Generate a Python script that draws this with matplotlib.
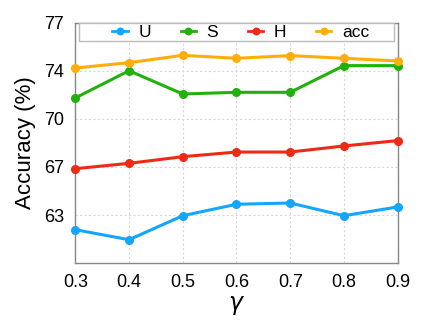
import numpy as np
import matplotlib
matplotlib.use("Agg")
import matplotlib.pyplot as plt
from matplotlib.patches import Rectangle

plt.rcParams['font.family'] = ['Liberation Sans', 'DejaVu Sans']
plt.rcParams['mathtext.fontset'] = 'dejavusans'

gamma = [0.3, 0.4, 0.5, 0.6, 0.7, 0.8, 0.9]
U = [62.36, 61.65, 63.35, 64.16, 64.25, 63.35, 63.97]
S = [71.69, 73.62, 71.97, 72.09, 72.09, 73.98, 73.98]
H = [66.68, 67.06, 67.53, 67.86, 67.86, 68.29, 68.67]
acc = [73.81, 74.19, 74.71, 74.50, 74.69, 74.50, 74.31]

yticks = [63.4, 66.8, 70.2, 73.6, 77.0]
ytick_labels = ["63", "67", "70", "74", "77"]

fig = plt.figure(figsize=(4.32, 3.27), dpi=100)
ax = fig.add_axes([0.1743, 0.1957, 0.7463, 0.734])

series = [("U", U, "#14a5ff"), ("S", S, "#22b00c"),
          ("H", H, "#ee2a14"), ("acc", acc, "#ffad0a")]
for name, vals, col in series:
    ax.plot(gamma, vals, color=col, lw=2.2, marker='o', ms=5.5, label=name,
            clip_on=False, zorder=3)

ax.set_xlim(0.3, 0.9)
ax.set_ylim(60, 77)
ax.set_xticks(gamma)
ax.set_xticklabels([f"{g:.1f}" for g in gamma])
ax.set_yticks(yticks)
ax.set_yticklabels(ytick_labels)
ax.tick_params(axis='both', length=0, labelsize=13, pad=8)
ax.grid(True, ls=(0, (2, 2)), color='#d8d8d8', lw=0.8)
for sp in ax.spines.values():
    sp.set_color('#888888')
    sp.set_linewidth(1.0)

ax.set_ylabel("Accuracy (%)", fontsize=16, labelpad=6)
ax.set_xlabel(r"$\gamma$", fontsize=17, labelpad=2)

# legend frame drawn separately (wider than the entries)
frame = Rectangle((0.0115, 0.925), 0.977, 0.074, transform=ax.transAxes,
                  facecolor='white', edgecolor='#bbbbbb', lw=1.0, zorder=4,
                  clip_on=False)
ax.add_patch(frame)
leg = ax.legend(loc='center', ncol=4, fontsize=12.5, frameon=False,
                handlelength=0.9, handletextpad=0.6, markerscale=0.85,
                columnspacing=1.7, bbox_to_anchor=(0.513, 0.962))
leg.set_zorder(5)
for h in leg.legend_handles:
    h.set_linewidth(2.0)

fig.savefig("out.png", dpi=100)
